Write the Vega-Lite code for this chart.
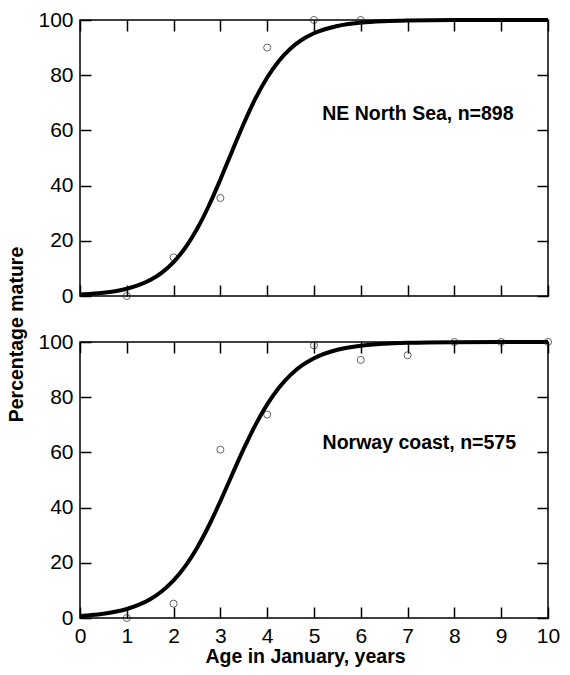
{
  "$schema": "https://vega.github.io/schema/vega-lite/v6.json",
  "autosize": {"type": "pad"},
  "padding": {"left": 5, "top": 8, "right": 0, "bottom": 0},
  "background": "white",
  "config": {
    "font": "Liberation Sans",
    "view": {"stroke": "black", "strokeWidth": 1.5},
    "axis": {
      "grid": false,
      "domain": false,
      "tickColor": "black",
      "tickWidth": 1.5,
      "labelColor": "black",
      "titleColor": "black",
      "labelFont": "Liberation Sans",
      "titleFont": "Liberation Sans",
      "labelFontSize": 21,
      "titleFontSize": 19.5,
      "titleFontWeight": "bold"
    }
  },
  "datasets": {
    "curveTop": [
      {"age": 0, "pct": 0.52}, {"age": 0.25, "pct": 0.78}, {"age": 0.5, "pct": 1.17}, {"age": 0.75, "pct": 1.75},
      {"age": 1, "pct": 2.62}, {"age": 1.25, "pct": 3.91}, {"age": 1.5, "pct": 5.79}, {"age": 1.75, "pct": 8.5},
      {"age": 2, "pct": 12.31}, {"age": 2.25, "pct": 17.49}, {"age": 2.5, "pct": 24.26}, {"age": 2.75, "pct": 32.61},
      {"age": 3, "pct": 42.23}, {"age": 3.25, "pct": 52.47}, {"age": 3.5, "pct": 62.52}, {"age": 3.75, "pct": 71.58},
      {"age": 4, "pct": 79.19}, {"age": 4.25, "pct": 85.18}, {"age": 4.5, "pct": 89.67}, {"age": 4.75, "pct": 92.92},
      {"age": 5, "pct": 95.19}, {"age": 5.5, "pct": 97.84}, {"age": 6, "pct": 99.04}, {"age": 6.5, "pct": 99.58},
      {"age": 7, "pct": 99.81}, {"age": 8, "pct": 99.96}, {"age": 9, "pct": 99.99}, {"age": 10, "pct": 100}
    ],
    "curveBottom": [
      {"age": 0, "pct": 0.72}, {"age": 0.25, "pct": 1.05}, {"age": 0.5, "pct": 1.54}, {"age": 0.75, "pct": 2.25},
      {"age": 1, "pct": 3.27}, {"age": 1.25, "pct": 4.73}, {"age": 1.5, "pct": 6.8}, {"age": 1.75, "pct": 9.68},
      {"age": 2, "pct": 13.61}, {"age": 2.25, "pct": 18.8}, {"age": 2.5, "pct": 25.39}, {"age": 2.75, "pct": 33.33},
      {"age": 3, "pct": 42.36}, {"age": 3.25, "pct": 51.92}, {"age": 3.5, "pct": 61.35}, {"age": 3.75, "pct": 69.99},
      {"age": 4, "pct": 77.42}, {"age": 4.25, "pct": 83.44}, {"age": 4.5, "pct": 88.1}, {"age": 4.75, "pct": 91.58},
      {"age": 5, "pct": 94.12}, {"age": 5.5, "pct": 97.19}, {"age": 6, "pct": 98.68}, {"age": 6.5, "pct": 99.38},
      {"age": 7, "pct": 99.71}, {"age": 8, "pct": 99.94}, {"age": 9, "pct": 99.99}, {"age": 10, "pct": 100}
    ],
    "pointsTop": [
      {"age": 1, "pct": 0}, {"age": 2, "pct": 14}, {"age": 3, "pct": 35.5},
      {"age": 4, "pct": 90}, {"age": 5, "pct": 100}, {"age": 6, "pct": 100}
    ],
    "pointsBottom": [
      {"age": 1, "pct": 0}, {"age": 2, "pct": 5.2}, {"age": 3, "pct": 61}, {"age": 4, "pct": 73.7},
      {"age": 5, "pct": 98.8}, {"age": 6, "pct": 93.5}, {"age": 7, "pct": 95.2}, {"age": 8, "pct": 100},
      {"age": 9, "pct": 100}, {"age": 10, "pct": 100}
    ],
    "labelTop": [{"label": "NE North Sea, n=898"}],
    "labelBottom": [{"label": "Norway coast, n=575"}]
  },
  "spacing": 46,
  "bounds": "flush",
  "vconcat": [
    {
      "width": 468,
      "height": 276,
      "layer": [
        {
          "data": {"name": "curveTop"},
          "mark": {"type": "line", "color": "black", "strokeWidth": 4, "interpolate": "monotone"},
          "encoding": {
            "x": {"field": "age", "type": "quantitative", "scale": {"domain": [0, 10], "nice": false},
                  "axis": {"orient": "bottom", "values": [0,1,2,3,4,5,6,7,8,9,10], "labels": false, "tickSize": -11, "title": null}},
            "y": {"field": "pct", "type": "quantitative", "scale": {"domain": [0, 100], "nice": false},
                  "axis": {"orient": "left", "values": [0,20,40,60,80,100], "tickSize": -11, "labelPadding": 18,
                           "title": "Percentage mature", "titleX": -58, "titleY": 314, "titleBaseline": "alphabetic"}}
          }
        },
        {
          "data": {"name": "pointsTop"},
          "mark": {"type": "point", "shape": "circle", "filled": false, "size": 50, "color": "#222", "strokeWidth": 1},
          "encoding": {
            "x": {"field": "age", "type": "quantitative",
                  "axis": {"orient": "top", "values": [0,1,2,3,4,5,6,7,8,9,10], "labels": false, "tickSize": -11, "title": null}},
            "y": {"field": "pct", "type": "quantitative",
                  "axis": {"orient": "right", "values": [0,20,40,60,80,100], "labels": false, "tickSize": -11, "title": null}}
          }
        },
        {
          "data": {"name": "labelTop"},
          "mark": {"type": "text", "fontWeight": "bold", "fontSize": 19.5, "color": "black", "align": "center", "baseline": "middle"},
          "encoding": {
            "x": {"datum": 7.22, "type": "quantitative", "axis": null},
            "y": {"datum": 66, "type": "quantitative", "axis": null},
            "text": {"field": "label"}
          }
        }
      ],
      "resolve": {"axis": {"x": "independent", "y": "independent"}}
    },
    {
      "width": 468,
      "height": 276,
      "layer": [
        {
          "data": {"name": "curveBottom"},
          "mark": {"type": "line", "color": "black", "strokeWidth": 4, "interpolate": "monotone"},
          "encoding": {
            "x": {"field": "age", "type": "quantitative", "scale": {"domain": [0, 10], "nice": false},
                  "axis": {"orient": "bottom", "values": [0,1,2,3,4,5,6,7,8,9,10], "tickSize": -11, "labelPadding": 18, "labelFlush": false,
                           "title": "Age in January, years", "titleX": 225, "titleY": 44, "titleBaseline": "alphabetic"}},
            "y": {"field": "pct", "type": "quantitative", "scale": {"domain": [0, 100], "nice": false},
                  "axis": {"orient": "left", "values": [0,20,40,60,80,100], "tickSize": -11, "labelPadding": 18, "title": null}}
          }
        },
        {
          "data": {"name": "pointsBottom"},
          "mark": {"type": "point", "shape": "circle", "filled": false, "size": 50, "color": "#222", "strokeWidth": 1},
          "encoding": {
            "x": {"field": "age", "type": "quantitative",
                  "axis": {"orient": "top", "values": [0,1,2,3,4,5,6,7,8,9,10], "labels": false, "tickSize": -11, "title": null}},
            "y": {"field": "pct", "type": "quantitative",
                  "axis": {"orient": "right", "values": [0,20,40,60,80,100], "labels": false, "tickSize": -11, "title": null}}
          }
        },
        {
          "data": {"name": "labelBottom"},
          "mark": {"type": "text", "fontWeight": "bold", "fontSize": 19.5, "color": "black", "align": "center", "baseline": "middle"},
          "encoding": {
            "x": {"datum": 7.25, "type": "quantitative", "axis": null},
            "y": {"datum": 63.3, "type": "quantitative", "axis": null},
            "text": {"field": "label"}
          }
        }
      ],
      "resolve": {"axis": {"x": "independent", "y": "independent"}}
    }
  ]
}
